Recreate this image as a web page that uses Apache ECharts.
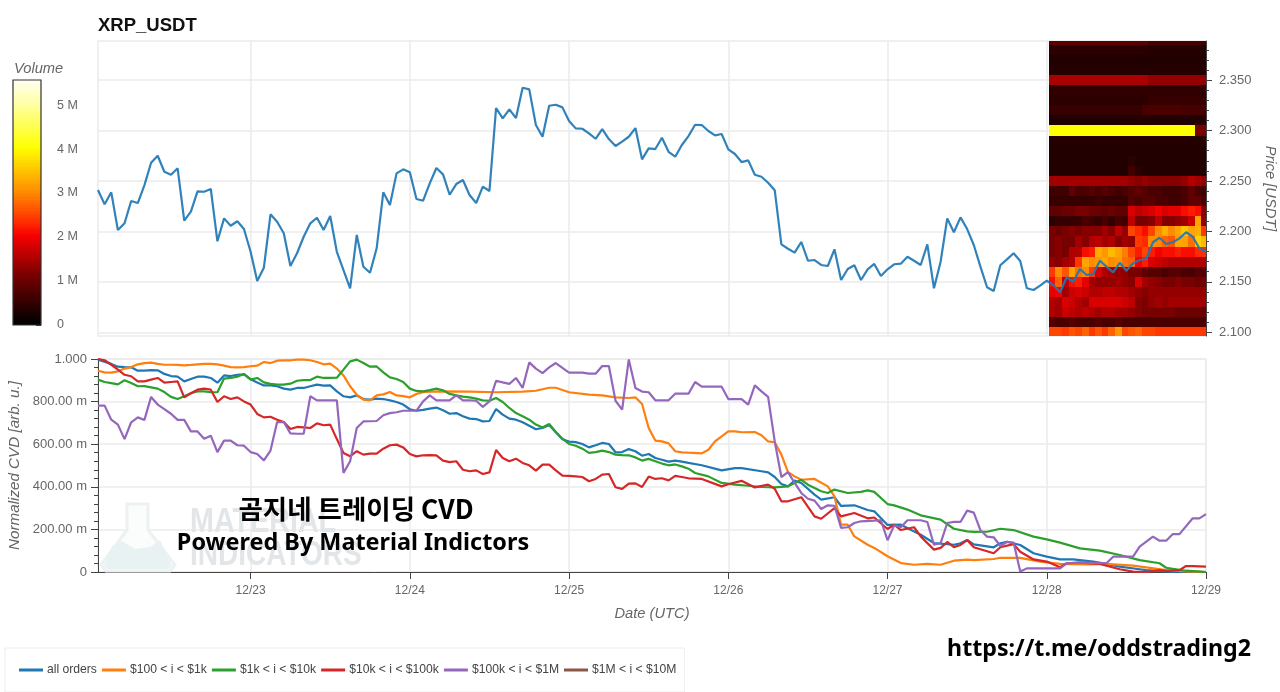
<!DOCTYPE html>
<html>
<head>
<meta charset="utf-8">
<title>XRP_USDT CVD</title>
<script src="https://cdn.jsdelivr.net/npm/echarts@6/dist/echarts.min.js"></script>
<style>
  html, body { margin: 0; padding: 0; background: #fff; }
  #chart { width: 1280px; height: 692px; }
</style>
</head>
<body>
<div id="chart"></div>
<script>
// x is hours since 12/22 01:00 UTC, so each array index is one hour
const dayTicks = [23, 47, 71, 95, 119, 143, 167];
const dayLabels = ['12/23', '12/24', '12/25', '12/26', '12/27', '12/28', '12/29'];
const priceTicks = [2.10, 2.15, 2.20, 2.25, 2.30, 2.35];
const priceMinorTicks = [2.10, 2.11, 2.12, 2.13, 2.14, 2.15, 2.16, 2.17, 2.18, 2.19, 2.20, 2.21, 2.22, 2.23, 2.24, 2.25, 2.26, 2.27, 2.28, 2.29, 2.30, 2.31, 2.32, 2.33, 2.34, 2.35, 2.36, 2.37, 2.38];

const priceValues = [
  2.2410, 2.2268, 2.2387, 2.2013, 2.2080, 2.2301, 2.2281, 2.2459, 2.2680, 2.2750, 2.2591, 2.2562,
  2.2625, 2.2106, 2.2195, 2.2397, 2.2393, 2.2420, 2.1902, 2.2129, 2.2056, 2.2100, 2.2023, 2.1798,
  2.1508, 2.1640, 2.2169, 2.2096, 2.1981, 2.1657, 2.1783, 2.1947, 2.2080, 2.2135, 2.2013, 2.2152,
  2.1798, 2.1617, 2.1436, 2.1964, 2.1650, 2.1590, 2.1832, 2.2387, 2.2261, 2.2575, 2.2615, 2.2585,
  2.2321, 2.2304, 2.2476, 2.2628, 2.2565, 2.2363, 2.2469, 2.2509, 2.2360, 2.2281, 2.2443, 2.2400,
  2.3223, 2.3120, 2.3210, 2.3123, 2.3424, 2.3408, 2.3054, 2.2938, 2.3245, 2.3255, 2.3229, 2.3094,
  2.3021, 2.3017, 2.2972, 2.2918, 2.3014, 2.2915, 2.2846, 2.2889, 2.2938, 2.3024, 2.2714, 2.2823,
  2.2816, 2.2928, 2.2789, 2.2740, 2.2856, 2.2945, 2.3057, 2.3054, 2.2995, 2.2952, 2.2965, 2.2813,
  2.2767, 2.2687, 2.2704, 2.2562, 2.2542, 2.2482, 2.2407, 2.1872, 2.1828, 2.1789, 2.1895, 2.1709,
  2.1716, 2.1667, 2.1657, 2.1822, 2.1518, 2.1627, 2.1664, 2.1518, 2.1624, 2.1677, 2.1558, 2.1624,
  2.1674, 2.1680, 2.1749, 2.1709, 2.1667, 2.1872, 2.1436, 2.1699, 2.2129, 2.1991, 2.2139, 2.2023,
  2.1865, 2.1650, 2.1446, 2.1409, 2.1664, 2.1723, 2.1783, 2.1706, 2.1436, 2.1419, 2.1462, 2.1511,
  2.1468, 2.1396, 2.1545, 2.1501, 2.1627, 2.1568, 2.1575, 2.1709, 2.1650, 2.1594, 2.1689, 2.1610,
  2.1683, 2.1716, 2.1726, 2.1892, 2.1937, 2.1875, 2.1892, 2.1931, 2.1991, 2.1947, 2.1832, 2.1798
];

// CVD lines as [hour, value] read where each line bends
const allOrders = [[0,.997],[2,.977],[3,.964],[4,.962],[5,.961],[6,.945],[7,.945],[8,.948],[9,.947],[10,.930],[11,.920],[12,.917],[13,.895],[14,.906],[15,.917],[16,.917],[17,.911],[18,.889],[19,.923],[20,.920],[21,.926],[22,.928],[23,.905],[24,.890],[25,.876],[26,.876],[27,.872],[28,.861],[29,.856],[30,.864],[31,.864],[32,.872],[33,.880],[34,.875],[35,.876],[36,.848],[37,.825],[38,.820],[39,.829],[40,.812],[41,.809],[42,.814],[43,.812],[44,.806],[45,.798],[46,.786],[47,.764],[48,.757],[49,.761],[50,.767],[51,.772],[52,.759],[53,.743],[54,.746],[55,.731],[56,.720],[57,.718],[58,.707],[59,.709],[60,.765],[61,.739],[62,.720],[63,.715],[64,.703],[65,.687],[66,.670],[67,.676],[68,.690],[69,.656],[70,.623],[71,.612],[72,.610],[73,.601],[74,.585],[75,.595],[76,.606],[77,.601],[78,.562],[79,.563],[80,.577],[81,.567],[82,.546],[83,.554],[84,.535],[85,.527],[86,.518],[87,.523],[88,.518],[89,.512],[91,.501],[94,.477],[96,.488],[97,.488],[100,.473],[101,.468],[102,.446],[103,.413],[104,.402],[105,.429],[106,.418],[108,.363],[109,.340],[111,.351],[112,.310],[114,.313],[116,.291],[117,.285],[119,.221],[121,.222],[124,.175],[126,.136],[129,.128],[130,.135],[131,.150],[132,.130],[135,.116],[136,.135],[137,.142],[139,.127],[141,.088],[143,.072],[145,.059],[147,.059],[150,.049],[152,.038],[154,.025],[157,.013],[158,.009],[160,.005],[162,.002],[165,.002],[167,0]];
const orders100to1k = [[0,.945],[1,.937],[2,.936],[3,.942],[4,.955],[5,.962],[6,.975],[7,.981],[8,.983],[9,.977],[10,.973],[11,.973],[12,.972],[13,.970],[14,.972],[15,.975],[16,.977],[17,.977],[18,.975],[19,.969],[20,.962],[21,.961],[22,.962],[23,.966],[24,.969],[25,.986],[26,.981],[27,.992],[28,.994],[29,.994],[30,.997],[31,.997],[32,.994],[33,.986],[34,.975],[35,.978],[36,.955],[37,.923],[38,.872],[39,.832],[40,.809],[41,.806],[42,.829],[43,.834],[44,.845],[45,.829],[46,.826],[47,.820],[48,.836],[49,.844],[50,.847],[52,.848],[56,.847],[60,.844],[64,.847],[66,.851],[68,.865],[69,.865],[71,.844],[74,.833],[76,.829],[78,.820],[80,.817],[81,.820],[82,.789],[83,.676],[84,.617],[85,.613],[86,.604],[87,.567],[88,.562],[89,.560],[91,.557],[92,.574],[93,.613],[94,.637],[95,.660],[96,.660],[97,.656],[99,.657],[100,.642],[101,.613],[102,.609],[103,.551],[104,.469],[105,.449],[106,.433],[108,.437],[110,.402],[111,.355],[112,.222],[113,.222],[114,.167],[116,.128],[117,.113],[119,.074],[121,.042],[123,.034],[125,.038],[127,.034],[129,.053],[131,.058],[132,.056],[135,.061],[136,.067],[139,.066],[142,.049],[145,.038],[149,.036],[152,.038],[156,.030],[158,.022],[161,.009],[164,.003],[167,0]];
const orders1kto10k = [[0,.903],[1,.892],[2,.887],[3,.881],[4,.900],[5,.887],[6,.872],[7,.873],[8,.867],[9,.861],[10,.845],[11,.822],[12,.812],[13,.825],[14,.839],[15,.848],[16,.848],[17,.844],[18,.844],[19,.908],[20,.911],[21,.917],[22,.930],[23,.903],[24,.911],[25,.890],[26,.883],[27,.880],[28,.880],[29,.884],[30,.898],[31,.901],[32,.901],[33,.917],[34,.911],[35,.911],[36,.912],[37,.950],[38,.989],[39,.997],[40,.981],[41,.964],[42,.965],[43,.937],[44,.914],[45,.906],[46,.892],[47,.861],[48,.850],[49,.848],[50,.854],[51,.861],[52,.853],[53,.836],[54,.829],[55,.823],[56,.820],[57,.814],[58,.806],[59,.804],[60,.817],[61,.798],[62,.770],[63,.746],[64,.731],[65,.715],[66,.692],[67,.678],[68,.695],[69,.657],[70,.626],[71,.601],[72,.593],[73,.579],[74,.559],[75,.563],[76,.570],[77,.563],[78,.551],[79,.549],[80,.548],[81,.538],[82,.523],[83,.531],[84,.520],[85,.509],[86,.501],[87,.505],[88,.496],[89,.485],[90,.465],[92,.449],[94,.418],[96,.410],[98,.405],[100,.399],[102,.397],[104,.402],[106,.433],[107,.410],[109,.379],[110,.371],[111,.387],[113,.371],[115,.376],[116,.383],[117,.376],[119,.319],[120,.313],[122,.293],[124,.266],[127,.246],[129,.203],[131,.191],[132,.188],[134,.189],[136,.203],[138,.197],[141,.166],[143,.153],[145,.138],[148,.111],[151,.100],[154,.080],[157,.056],[160,.041],[161,.020],[164,.006],[167,0]];
const orders10kto100k = [[0,1],[1,.994],[2,.973],[3,.950],[4,.926],[5,.919],[6,.895],[7,.895],[8,.903],[9,.911],[10,.889],[11,.892],[12,.895],[13,.820],[14,.839],[15,.856],[16,.861],[17,.856],[18,.798],[19,.825],[20,.812],[21,.820],[22,.801],[23,.786],[24,.742],[25,.726],[26,.729],[27,.715],[28,.704],[29,.671],[30,.681],[31,.679],[32,.676],[33,.698],[34,.689],[35,.692],[36,.624],[37,.559],[38,.543],[39,.567],[40,.551],[41,.556],[42,.556],[43,.579],[44,.595],[45,.598],[46,.585],[47,.554],[48,.543],[49,.548],[50,.549],[51,.548],[52,.523],[53,.516],[54,.520],[55,.480],[56,.473],[57,.477],[58,.460],[59,.468],[60,.573],[61,.535],[62,.520],[63,.532],[64,.512],[65,.501],[66,.476],[67,.504],[68,.504],[69,.477],[70,.452],[71,.451],[72,.449],[73,.446],[74,.426],[75,.437],[76,.457],[77,.460],[78,.398],[79,.390],[80,.415],[81,.416],[82,.399],[83,.448],[84,.437],[85,.440],[86,.430],[87,.451],[88,.446],[89,.440],[91,.437],[94,.402],[95,.412],[97,.428],[99,.397],[101,.410],[102,.391],[103,.332],[104,.332],[106,.351],[108,.261],[109,.250],[111,.300],[112,.261],[114,.277],[116,.252],[117,.256],[119,.202],[120,.222],[121,.197],[123,.210],[124,.167],[126,.105],[127,.113],[128,.141],[129,.117],[130,.127],[131,.150],[132,.116],[135,.088],[136,.116],[138,.131],[139,.095],[141,.059],[143,.049],[145,.022],[146,.041],[148,.044],[151,.038],[154,.013],[156,.002],[158,0],[160,.009],[161,.005],[163,.009],[164,.028],[165,.028],[167,.025]];
const orders100kto1M = [[0,.781],[1,.781],[2,.715],[3,.692],[4,.624],[5,.703],[6,.726],[7,.714],[8,.822],[9,.786],[10,.765],[11,.743],[12,.714],[13,.714],[14,.660],[15,.660],[16,.626],[17,.640],[18,.563],[19,.617],[20,.617],[21,.595],[22,.593],[23,.563],[24,.554],[25,.524],[26,.570],[27,.704],[28,.704],[29,.651],[30,.649],[31,.649],[32,.825],[33,.806],[34,.806],[35,.806],[36,.806],[37,.465],[38,.520],[39,.676],[40,.707],[42,.709],[43,.736],[44,.746],[45,.750],[46,.757],[47,.757],[48,.757],[49,.801],[50,.829],[51,.806],[52,.806],[53,.806],[54,.829],[55,.806],[56,.806],[57,.804],[58,.775],[59,.801],[60,.898],[61,.890],[62,.883],[63,.911],[64,.864],[65,.984],[66,.955],[67,.934],[68,.961],[69,.981],[70,.958],[71,.936],[72,.936],[73,.936],[74,.931],[75,.931],[76,.967],[77,.967],[78,.804],[79,.762],[80,.998],[81,.864],[82,.847],[83,.844],[84,.806],[85,.806],[86,.806],[87,.837],[88,.837],[89,.837],[90,.892],[91,.870],[94,.870],[95,.812],[96,.812],[97,.812],[98,.786],[99,.876],[100,.848],[101,.822],[102,.613],[103,.446],[104,.469],[105,.418],[106,.371],[107,.344],[108,.335],[109,.296],[110,.313],[111,.311],[112,.207],[113,.210],[114,.230],[115,.238],[117,.241],[118,.243],[119,.149],[120,.219],[121,.210],[122,.243],[124,.243],[125,.235],[126,.128],[127,.136],[128,.230],[129,.235],[130,.235],[131,.288],[132,.279],[133,.197],[134,.166],[135,.163],[136,.122],[137,.141],[138,.138],[139,.002],[140,.017],[145,.017],[146,.041],[148,.044],[152,.041],[153,.072],[156,.072],[157,.119],[159,.166],[160,.147],[161,.147],[162,.178],[163,.178],[165,.252],[166,.252],[167,.272]];
const orders1Mto10M = [];

const cvdNames = ['all orders', '$100 < i < $1k', '$1k < i < $10k', '$10k < i < $100k', '$100k < i < $1M', '$1M < i < $10M'];
const cvdColors = ['#1f77b4', '#ff7f0e', '#2ca02c', '#d62728', '#9467bd', '#8c564b'];

// order book heatmap, volume in millions, one row per price bin and one value per hour
const heatStartHour = 143.3;
const heatPrices = [2.10, 2.11, 2.12, 2.13, 2.14, 2.15, 2.16, 2.17, 2.18, 2.19, 2.20, 2.21, 2.22, 2.23, 2.24, 2.25, 2.26, 2.27, 2.28, 2.29, 2.30, 2.31, 2.32, 2.33, 2.34, 2.35, 2.36, 2.37, 2.38, 2.39];
const heatVolumes = [
  [2.5,2.5,2.4,2.6,2.5,2.7,2.4,2.6,2.4,2.7,3.1,2.5,2.6,2.7,2.5,2.5,2.4,2.4,2.4,2.4,2.4,2.4,2.4,2.4],
  [.8,.7,.7,.8,.7,.7,.7,.8,.7,.7,.8,.7,.7,.7,.7,.7,.7,.7,.7,.7,.7,.7,.7,.7],
  [1.5,1.4,1.7,1.6,1.5,1.6,1.5,1.4,1.5,1.5,1.4,1.4,1.3,1.2,1.1,1.1,1.1,1.1,1.1,1.0,1.0,1.0,1.0,1.0],
  [1.5,1.4,1.8,1.7,1.5,1.4,1.8,1.8,1.8,1.8,1.8,1.7,1.6,1.2,1.1,1.3,1.4,1.3,1.4,1.4,1.4,1.4,1.4,1.4],
  [1.9,2.0,1.4,1.7,1.8,1.7,1.5,1.5,1.6,1.6,1.5,1.5,1.4,1.3,1.2,1.3,1.3,1.3,1.3,1.3,1.3,1.3,1.3,1.3],
  [2.1,2.7,1.6,2.1,2.2,1.9,1.4,1.3,1.3,1.3,1.4,1.3,1.2,1.8,1.4,1.3,1.2,1.1,1.1,1.2,1.1,1.1,1.0,1.1],
  [2.4,3.0,2.6,3.2,2.8,3.0,2.4,1.8,1.5,1.4,1.3,1.3,1.1,1.1,.9,.8,.8,.7,.8,.8,.7,.7,.8,.8],
  [1.3,1.2,1.4,1.5,2.4,3.2,3.0,3.1,3.2,3.0,3.1,2.8,2.7,2.0,2.2,1.8,1.7,1.6,1.5,1.5,1.5,1.5,1.5,1.5],
  [1.1,1.2,1.1,1.5,1.5,2.1,2.2,3.3,3.1,3.4,3.2,2.9,2.5,2.2,2.5,2.2,2.0,2.1,2.1,2.2,2.1,2.1,2.3,2.3],
  [1.1,1.2,1.1,1.1,1.4,1.2,1.5,1.6,1.4,1.5,1.2,1.4,1.3,2.4,2.3,3.0,3.0,2.7,2.6,3.2,3.2,2.8,3.6,3.4],
  [1.1,1.0,1.1,1.2,1.1,1.2,1.2,1.2,1.4,1.2,1.6,1.3,2.5,2.3,2.1,2.5,3.0,3.3,3.0,3.2,3.5,3.2,3.3,2.4],
  [.4,.5,.5,.5,.5,.7,.6,.5,.7,.5,.7,.6,1.6,1.1,1.1,1.2,1.6,1.2,1.2,1.3,1.4,1.7,3.2,1.3],
  [.9,.9,1.0,1.0,1.1,1.1,1.0,1.0,.9,1.0,.9,.9,1.8,1.6,1.7,1.8,2.0,1.8,1.9,1.9,2.1,2.2,2.1,1.2],
  [.5,.5,.5,.5,.5,.5,.5,.6,.5,.5,.5,.5,.8,.7,.8,.8,.7,.7,.6,.6,.7,.9,.9,.7],
  [.6,.6,.6,.9,.7,.7,.8,.7,.8,.7,.6,.7,.8,.9,.8,.7,.7,.6,.6,.6,.7,.9,.7,.6],
  [1.4,1.4,1.4,1.4,1.4,1.4,1.4,1.4,1.4,1.4,1.4,1.4,1.3,1.2,1.3,1.2,1.2,1.2,1.2,1.2,1.3,1.5,1.4,1.3],
  [.33,.33,.33,.33,.33,.33,.33,.33,.33,.33,.33,.33,.6,.4,.33,.33,.33,.33,.33,.33,.33,.33,.33,.33],
  [.32,.32,.32,.32,.32,.32,.32,.32,.32,.32,.32,.32,.4,.32,.32,.32,.32,.32,.32,.32,.32,.32,.32,.32],
  [.33,.33,.33,.33,.33,.33,.33,.33,.33,.33,.33,.33,.33,.33,.33,.33,.33,.33,.33,.33,.33,.33,.33,.33],
  [.35,.35,.35,.35,.35,.35,.35,.35,.35,.35,.35,.35,.35,.35,.35,.35,.35,.35,.35,.35,.35,.35,.35,.4],
  [4,4,4,4,4,4,4,4,4,4,4,4,4,4,4,4,4,4,4,4,4,4,1.1,1.1],
  [.3,.3,.3,.3,.3,.3,.3,.3,.3,.3,.3,.35,.35,.35,.35,.3,.3,.3,.3,.3,.3,.3,.35,.35],
  [.5,.5,.5,.5,.5,.5,.5,.5,.5,.5,.5,.5,.5,.5,.65,.7,.7,.7,.7,.7,.65,.65,.65,.65],
  [.42,.42,.42,.42,.42,.42,.42,.42,.42,.42,.42,.42,.42,.42,.42,.5,.5,.5,.5,.5,.5,.5,.5,.5],
  [.45,.45,.45,.45,.45,.45,.45,.45,.45,.45,.45,.45,.45,.45,.45,.45,.45,.45,.45,.45,.45,.45,.45,.45],
  [1.45,1.45,1.45,1.45,1.45,1.45,1.45,1.45,1.45,1.45,1.45,1.45,1.45,1.45,1.45,1.3,1.3,1.3,1.3,1.3,1.3,1.3,1.3,1.3],
  [.35,.35,.35,.35,.35,.35,.35,.35,.35,.35,.35,.35,.35,.35,.35,.35,.35,.35,.35,.35,.35,.35,.35,.35],
  [.3,.3,.3,.3,.3,.3,.3,.3,.3,.3,.3,.3,.3,.3,.3,.3,.3,.3,.3,.3,.3,.3,.3,.3],
  [.4,.4,.4,.4,.4,.4,.4,.4,.4,.4,.4,.4,.4,.4,.4,.35,.35,.35,.35,.35,.35,.35,.35,.35],
  [.85,.85,.85,.85,.85,.85,.85,.85,.85,.85,.85,.85,.85,.85,.85,.65,.65,.65,.65,.65,.65,.65,.65,.65]
];

// colour stops [volume in millions, colour]
const heatStops = [[0,'#000000'],[1,'#6b0000'],[2,'#f50000'],[2.3,'#ff2a00'],[3,'#ff8c00'],[4,'#ffff00'],[5,'#ffffa5'],[5.57,'#fffff5']];
const colorbarMax = 5.57;
const colorbarTicks = [0, 1, 2, 3, 4, 5];

function heatColor(v) {
  for (let i = 1; i < heatStops.length; i++) {
    if (v <= heatStops[i][0]) {
      const a = heatStops[i - 1], b = heatStops[i];
      return echarts.color.lerp((v - a[0]) / (b[0] - a[0]), [a[1], b[1]]);
    }
  }
  return heatStops[heatStops.length - 1][1];
}

const heatData = [];
heatVolumes.forEach((row, r) => row.forEach((v, c) => heatData.push([heatStartHour + c, heatPrices[r], v])));

// one band per palette step for the colour bar
const colorbarData = [];
for (let v = 0; v < colorbarMax; v += 0.05) colorbarData.push([0, v]);

const GREY = '#666666', AXIS = '#444444', GRID = '#ebebeb';
const FONT = '"Liberation Sans", Arial, sans-serif';
const nameStyle = { color: GREY, fontStyle: 'italic', fontSize: 14.7, fontFamily: FONT };

function hourAxis(gridIndex, showLabels) {
  return {
    type: 'value', gridIndex, min: 0, max: 167, scale: true,
    axisLine: { show: showLabels, onZero: false, lineStyle: { color: AXIS, width: 1 } },
    axisTick: { show: showLabels, length: 7, customValues: dayTicks, lineStyle: { color: AXIS } },
    minorTick: { show: false },
    axisLabel: {
      show: showLabels, customValues: dayTicks, color: GREY, fontSize: 12, fontFamily: FONT, margin: 13,
      formatter: v => dayLabels[dayTicks.indexOf(v)] || ''
    },
    splitLine: { show: true, lineStyle: { color: GRID, width: 1.5 } },
    name: showLabels ? 'Date (UTC)' : '',
    nameLocation: 'middle', nameGap: 34, nameTextStyle: nameStyle
  };
}

function snappedRect(a, b, fill) {
  const x = Math.round(a[0]), y = Math.round(a[1]);
  return {
    type: 'rect',
    shape: { x, y, width: Math.round(b[0]) - x, height: Math.round(b[1]) - y },
    style: { fill }
  };
}

const cvdData = [allOrders, orders100to1k, orders1kto10k, orders10kto100k, orders100kto1M, orders1Mto10M];

const chart = echarts.init(document.getElementById('chart'), null, { renderer: 'canvas' });
chart.setOption({
  animation: false,
  backgroundColor: '#ffffff',
  textStyle: { fontFamily: FONT },
  title: {
    text: 'XRP_USDT', left: 98, top: 16, padding: 0,
    textStyle: { fontSize: 18.5, fontWeight: 'bold', color: '#111', fontFamily: FONT }
  },
  legend: {
    left: 5, top: 648, orient: 'horizontal', icon: 'rect',
    itemWidth: 24, itemHeight: 3, itemGap: 5,
    padding: [16, 8, 16, 14],
    borderColor: '#eeeeee', borderWidth: 1,
    textStyle: { color: '#444', fontSize: 12.15, fontFamily: FONT, padding: [0, 0, 0, -1] },
    data: cvdNames
  },
  grid: [
    { left: 98, top: 41, width: 1108, height: 295, show: true, borderColor: GRID, borderWidth: 1.5, outerBoundsMode: 'none' },
    { left: 98, top: 359, width: 1108, height: 213, show: true, borderColor: GRID, borderWidth: 1.5, outerBoundsMode: 'none' },
    { left: 13, top: 80, width: 28, height: 245, outerBoundsMode: 'none' }
  ],
  xAxis: [
    hourAxis(0, false),
    hourAxis(1, true),
    { type: 'value', gridIndex: 2, min: 0, max: 1, show: false }
  ],
  yAxis: [
    {
      type: 'value', gridIndex: 0, position: 'right', min: 2.0963, max: 2.3887,
      axisLine: { show: true, onZero: false, lineStyle: { color: AXIS } },
      axisTick: { show: true, length: 6, customValues: priceTicks, lineStyle: { color: AXIS } },
      minorTick: { show: false },
      axisLabel: {
        color: GREY, fontSize: 13, fontFamily: FONT, margin: 13, customValues: priceTicks,
        formatter: v => v.toFixed(3)
      },
      splitLine: { show: true, lineStyle: { color: GRID, width: 1.5 } },
      name: 'Price [USDT]', nameLocation: 'middle', nameRotate: -90, nameGap: 55, nameTextStyle: nameStyle
    },
    {
      type: 'value', gridIndex: 1, position: 'left', min: 0, max: 1, interval: 0.2,
      axisLine: { show: true, onZero: false, lineStyle: { color: AXIS } },
      axisTick: { show: true, length: 7, lineStyle: { color: AXIS } },
      minorTick: { show: true, splitNumber: 5, length: 4, lineStyle: { color: AXIS } },
      axisLabel: {
        color: GREY, fontSize: 13, fontFamily: FONT, margin: 11,
        formatter: v => v === 0 ? '0' : v === 1 ? '1.000' : (v * 1000).toFixed(2) + ' m'
      },
      splitLine: { show: true, lineStyle: { color: GRID, width: 1.5 } },
      name: 'Normalized CVD [arb. u.]', nameLocation: 'middle', nameGap: 74, nameTextStyle: { ...nameStyle, fontSize: 15.2 }
    },
    {
      type: 'value', gridIndex: 2, position: 'right', min: 0, max: colorbarMax,
      axisLine: { show: false, onZero: false },
      axisTick: { show: true, inside: true, length: 5, lineStyle: { color: '#333' }, customValues: colorbarTicks },
      axisLabel: {
        color: GREY, fontSize: 12.5, fontFamily: FONT, margin: 16, customValues: colorbarTicks,
        formatter: v => v === 0 ? '0' : v + ' M'
      },
      splitLine: { show: false },
      name: 'Volume', nameLocation: 'end', nameGap: 4,
      nameTextStyle: { ...nameStyle, align: 'left', padding: [0, 0, 0, -27] }
    },
    {
      // minor price ticks, same scale as the price axis
      type: 'value', gridIndex: 0, position: 'right', min: 2.0963, max: 2.3887,
      axisLine: { show: false, onZero: false },
      axisTick: { show: true, length: 3, customValues: priceMinorTicks, lineStyle: { color: AXIS } },
      axisLabel: { show: false },
      splitLine: { show: false }
    }
  ],
  series: [
    {
      type: 'custom', name: 'heat', xAxisIndex: 0, yAxisIndex: 0, clip: true, z: 3, silent: true,
      data: heatData,
      encode: { x: 0, y: 1 },
      renderItem(params, api) {
        const a = api.coord([api.value(0), api.value(1) + 0.005]);
        const b = api.coord([api.value(0) + 1, api.value(1) - 0.005]);
        return snappedRect(a, b, heatColor(api.value(2)));
      }
    },
    {
      type: 'line', name: 'price', xAxisIndex: 0, yAxisIndex: 0, z: 4, showSymbol: false, silent: true,
      data: priceValues.map((v, i) => [i, v]),
      lineStyle: { color: '#1f77b4', width: 2.2, opacity: 0.92 }, itemStyle: { color: '#1f77b4' }
    },
    ...cvdNames.map((name, k) => ({
      type: 'line', name, xAxisIndex: 1, yAxisIndex: 1, z: 4 + k, showSymbol: false, silent: true,
      data: cvdData[k],
      lineStyle: { color: cvdColors[k], width: 2.2 }, itemStyle: { color: cvdColors[k] }
    })),
    {
      type: 'custom', name: 'colorbar', xAxisIndex: 2, yAxisIndex: 2, clip: true, silent: true,
      data: colorbarData,
      encode: { x: 0, y: 1 },
      renderItem(params, api) {
        const v = api.value(1);
        const a = api.coord([0, v + 0.05]);
        const b = api.coord([1, v]);
        return snappedRect(a, b, heatColor(v));
      }
    }
  ],
  graphic: [
    // colour bar frame
    { type: 'rect', z: 8, shape: { x: 13, y: 80, width: 28, height: 245 }, style: { fill: 'none', stroke: '#333', lineWidth: 1.2 } },
    // Material Indicators watermark, sits under the lines
    {
      type: 'polygon', z: 1,
      shape: { points: [[127,504],[148,504],[148,530],[175,565],[170,571],[106,571],[101,565],[127,530]] },
      style: { fill: '#fbfcfc', stroke: '#edf1f1', lineWidth: 3 }
    },
    {
      type: 'polygon', z: 1,
      shape: { points: [[104,566],[112,546],[122,541],[135,549],[150,547],[160,540],[172,566],[168,569],[108,569]] },
      style: { fill: '#e8f2f2' }
    },
    { type: 'text', z: 1, x: 190, y: 505, scaleX: 0.82, style: { text: 'MATERIAL', fill: '#e2e6e9', font: 'bold 35px "Liberation Sans Narrow", "Liberation Sans"' } },
    { type: 'text', z: 1, x: 190, y: 538, scaleX: 0.8, style: { text: 'INDICATORS', fill: '#e2e6e9', font: 'bold 35px "Liberation Sans Narrow", "Liberation Sans"' } },
    // overlaid captions
    { type: 'text', z: 20, x: 356, y: 509, style: { text: '곰지네 트레이딩 CVD', fill: '#000', align: 'center', verticalAlign: 'middle', font: 'bold 26.5px "Noto Sans CJK KR"' } },
    { type: 'text', z: 20, x: 353, y: 543, style: { text: 'Powered By Material Indictors', fill: '#000', align: 'center', verticalAlign: 'middle', font: 'bold 23.4px "Noto Sans"' } },
    { type: 'text', z: 20, x: 1099, y: 649, style: { text: 'https://t.me/oddstrading2', fill: '#000', align: 'center', verticalAlign: 'middle', font: 'bold 23.2px "Noto Sans"' } }
  ]
});
</script>
</body>
</html>
